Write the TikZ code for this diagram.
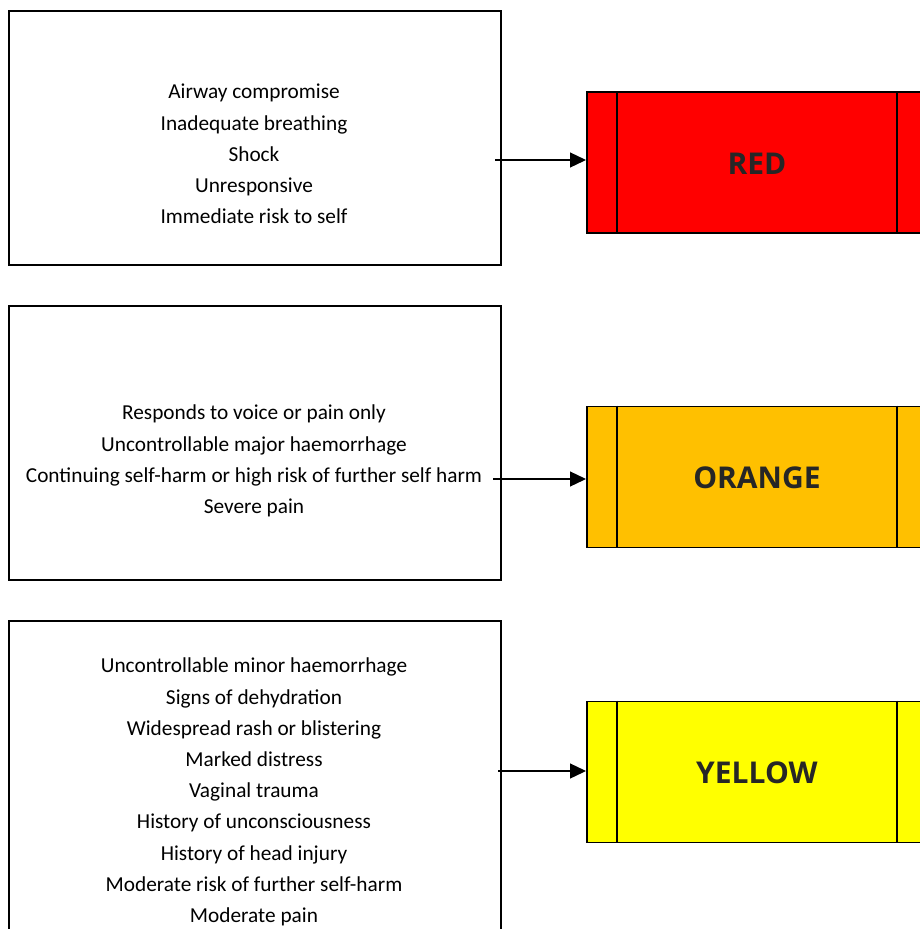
\documentclass[tikz,border=0pt]{standalone}
\usepackage{fontspec}
\setmainfont{Carlito}
\newfontfamily\tagfont{Open Sans}
\usetikzlibrary{arrows.meta}
\definecolor{triRed}{HTML}{FF0000}
\definecolor{triOrange}{HTML}{FFC000}
\definecolor{triYellow}{HTML}{FFFF00}
\definecolor{tagText}{HTML}{262626}
% centre a category word on its cap height
\newcommand{\tagword}[1]{\smash{\raisebox{-11.5pt}{#1}}}

\begin{document}
\begin{tikzpicture}[x=1pt,y=-1pt,
  critbox/.style={draw=black,line width=1.6pt,minimum width=492pt,inner sep=0pt,anchor=north west},
  crittext/.style={align=center,inner sep=0pt,font=\fontsize{21.3}{31.2}\selectfont},
  tagbox/.style={draw=black,line width=1.8pt,minimum width=340pt,minimum height=141pt,
    inner sep=0pt,anchor=west,text=tagText,font=\tagfont\bfseries\fontsize{30}{36}\selectfont},
  tagline/.style={draw=black,line width=1.6pt},
  flow/.style={draw=black,line width=1.3pt,-{Triangle[length=16pt,width=15pt]}}]
\useasboundingbox (0,0) rectangle (920,929);
\clip (0,0) rectangle (920,929);

% criteria boxes
\node[critbox,minimum height=254pt] (c1) at (8,10) {};
\node[critbox,minimum height=274pt] (c2) at (8,305) {};
\node[critbox,minimum height=340pt] (c3) at (8,620) {};

\node[crittext] (t1) at (254,154) {Airway compromise\\Inadequate breathing\\Shock\\Unresponsive\\Immediate risk to self};
\node[crittext] (t2) at (254,461) {Responds to voice or pain only\\Uncontrollable major haemorrhage\\Continuing self-harm or high risk of further self harm\\Severe pain};
\node[crittext] (t3) at (254,792) {Uncontrollable minor haemorrhage\\Signs of dehydration\\Widespread rash or blistering\\Marked distress\\Vaginal trauma\\History of unconsciousness\\History of head injury\\Moderate risk of further self-harm\\Moderate pain};

% triage categories
\node[tagbox,fill=triRed] (red) at (586,162.5) {\tagword{RED}};
\node[tagbox,fill=triOrange] (orange) at (586,477) {\tagword{ORANGE}};
\node[tagbox,fill=triYellow] (yellow) at (586,772) {\tagword{YELLOW}};

\foreach \b in {red,orange,yellow}{
  \draw[tagline] ([xshift=31pt]\b.north west) -- ([xshift=31pt]\b.south west);
  \draw[tagline] ([xshift=-31pt]\b.north east) -- ([xshift=-31pt]\b.south east);
}

% connectors
\coordinate (s1) at (495,160);
\coordinate (s2) at (493,479);
\coordinate (s3) at (498,771);
\draw[flow] (s1) -- (s1 -| red.west);
\draw[flow] (s2) -- (s2 -| orange.west);
\draw[flow] (s3) -- (s3 -| yellow.west);
\end{tikzpicture}
\end{document}
